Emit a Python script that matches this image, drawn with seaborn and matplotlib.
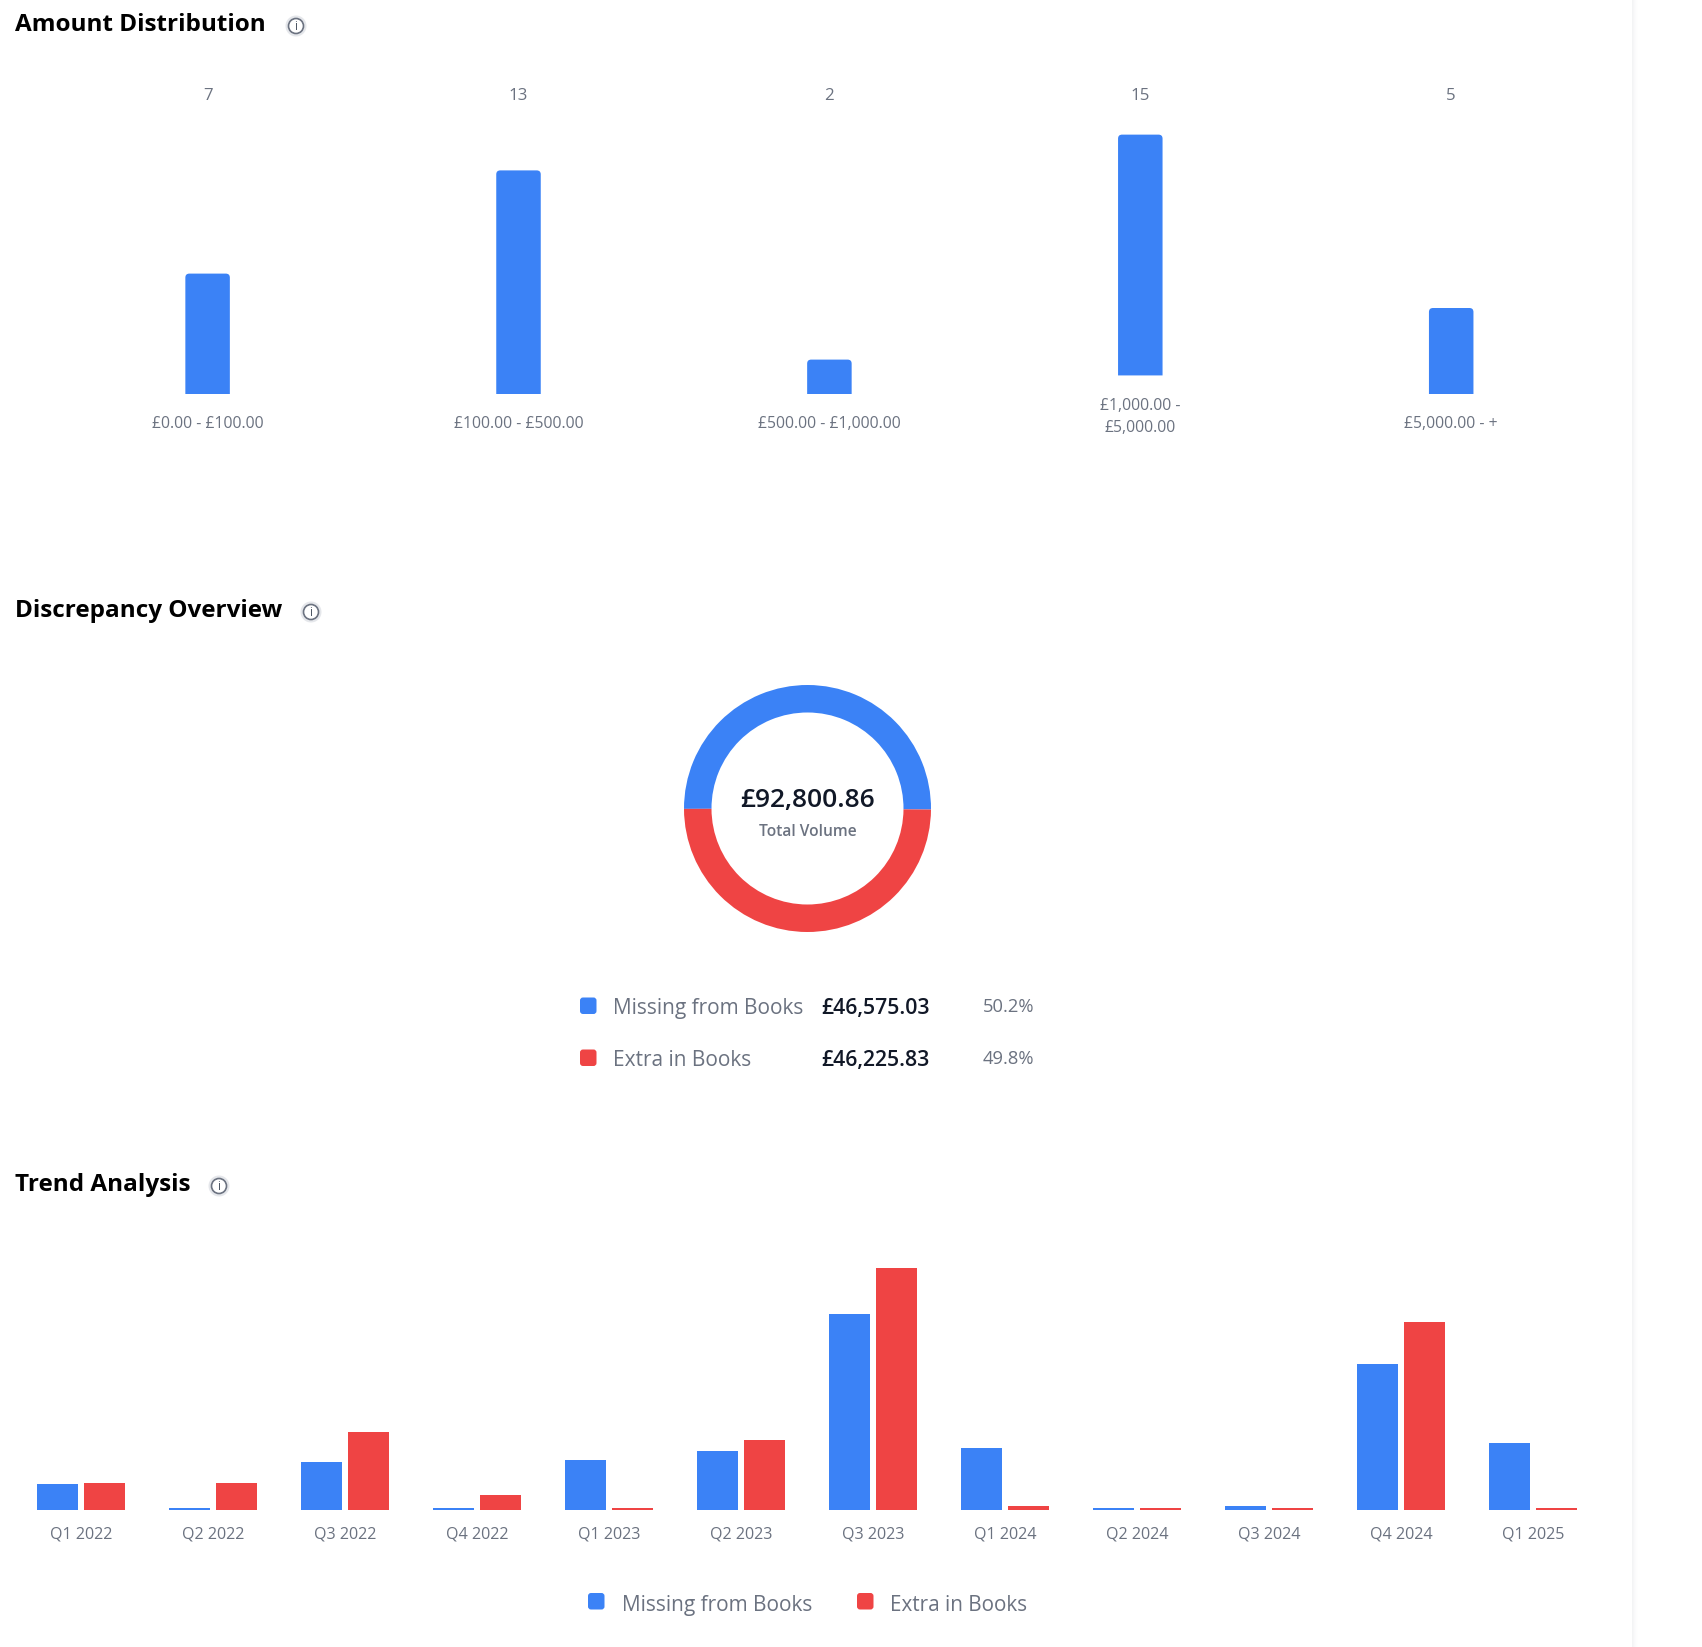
import matplotlib
matplotlib.use("Agg")
import matplotlib.pyplot as plt
import pandas as pd
import seaborn as sns
from matplotlib.patches import Circle, FancyBboxPatch, PathPatch, Rectangle
from matplotlib.path import Path

BLUE = "#3B82F6"
RED = "#EF4444"
GRAY = "#6B7280"
DARK = "#111827"

# Amount distribution
amount_bins = ["£0.00 - £100.00", "£100.00 - £500.00", "£500.00 - £1,000.00", "£1,000.00 -\n£5,000.00", "£5,000.00 - +"]
amount_counts = [7, 13, 2, 15, 5]
# drawn height of each bar, the wrapped label squeezes the fourth one
amount_heights = [7, 13, 2, 14, 5]
amount_lift = [0, 0, 0, 1.08, 0]

# Discrepancy overview
overview_labels = ["Missing from Books", "Extra in Books"]
overview_amounts = [46575.03, 46225.83]
overview_text = ["£46,575.03", "£46,225.83"]
overview_pct = ["50.2%", "49.8%"]
overview_total = "£92,800.86"

# Trend analysis
quarters = ["Q1 2022", "Q2 2022", "Q3 2022", "Q4 2022", "Q1 2023", "Q2 2023",
            "Q3 2023", "Q1 2024", "Q2 2024", "Q3 2024", "Q4 2024", "Q1 2025"]
trend_missing = [1820, 140, 3360, 140, 3500, 4130, 13755, 4340, 140, 280, 10220, 4690]
trend_extra = [1890, 1890, 5460, 1050, 140, 4900, 16940, 280, 140, 140, 13160, 140]

W, H = 1702, 1647
FONT = "Open Sans"

sns.set_theme(style="white")
plt.rcParams["font.family"] = [FONT, "DejaVu Sans"]

fig = plt.figure(figsize=(W / 100, H / 100), dpi=100, facecolor="white")


def px_axes(left, top, right, bottom, **kw):
    return fig.add_axes([left / W, 1 - bottom / H, (right - left) / W, (bottom - top) / H], **kw)


# overlay in pixel coordinates for titles, legends and page furniture
page = px_axes(0, 0, W, H, zorder=5)
page.set_xlim(0, W)
page.set_ylim(H, 0)
page.axis("off")
page.patch.set_alpha(0)

# soft shadow at the right edge of the panel
for i, shade in enumerate(["#F3F4F5", "#F6F6F7", "#F9F9FA", "#FBFBFC", "#FDFDFD", "#FEFEFE"]):
    page.add_patch(Rectangle((1632 + i, 0), 1, H, fc=shade, ec="none"))


def title(text, y, icon_x):
    page.text(15, y + 2, text, fontsize=17.45, fontweight="bold", color="black", va="center", ha="left")
    page.add_patch(Circle((icon_x, y + 3), 10.5, fc="#E5E7EB", ec="none"))
    page.add_patch(Circle((icon_x, y + 3), 7.5, fc="white", ec="#6B7280", lw=1.2))
    page.text(icon_x, y + 3.5, "i", fontsize=8.5, color="#4B5563", ha="center", va="center")


def swatch(x, y, color, size=16.5):
    page.add_patch(FancyBboxPatch((x + 2, y + 2), size - 4, size - 4, boxstyle="round,pad=2,rounding_size=3",
                                  fc=color, ec="none"))


title("Amount Distribution", 23, 296)
title("Discrepancy Overview", 609, 311)
title("Trend Analysis", 1183, 219)

# amount distribution bars
amount_df = pd.DataFrame({"bin": amount_bins, "height": amount_heights})
ax = px_axes(52.15, 100, 1606.65, 394)
sns.barplot(data=amount_df, x="bin", y="height", color=BLUE, saturation=1, width=44.5 / 310.9, ax=ax)
ax.set_ylim(0, 294 / 17.2)
ax.axis("off")
per_px = 17.2
for bar, lift in zip(list(ax.patches), amount_lift):
    x0, w, h = bar.get_x(), bar.get_width(), bar.get_height()
    y0 = lift
    y1 = lift + h
    rx = w * 4 / 44
    ry = 4 / per_px
    verts = [(x0, y0), (x0, y1 - ry), (x0, y1), (x0 + rx, y1), (x0 + w - rx, y1), (x0 + w, y1),
             (x0 + w, y1 - ry), (x0 + w, y0), (x0, y0)]
    codes = [Path.MOVETO, Path.LINETO, Path.CURVE3, Path.CURVE3, Path.LINETO, Path.CURVE3, Path.CURVE3,
             Path.LINETO, Path.CLOSEPOLY]
    ax.add_patch(PathPatch(Path(verts, codes), fc=BLUE, ec="none"))
    bar.remove()

for i, (label, count) in enumerate(zip(amount_bins, amount_counts)):
    cx = 207.6 + i * 310.9
    page.text(cx, 96.5, str(count), fontsize=12.2, color=GRAY, ha="center", va="center")
    page.text(cx, 417 if "\n" in label else 424.5, label, fontsize=11.35, color=GRAY, ha="center", va="center",
              linespacing=1.55)

# donut
donut = px_axes(807.5 - 130, 808.5 - 130, 807.5 + 130, 808.5 + 130)
donut.pie(overview_amounts, colors=[BLUE, RED], startangle=-0.5, radius=123.5, counterclock=True,
          wedgeprops={"width": 27.5, "linewidth": 0})
donut.set_xlim(-130, 130)
donut.set_ylim(-130, 130)

page.text(807.5, 800, overview_total, fontsize=19, fontweight="semibold", color=DARK, ha="center", va="center")
page.text(807.5, 831.5, "Total Volume", fontsize=11.2, fontweight="semibold", color=GRAY, ha="center", va="center")

for label, amount, pct, color, y in zip(overview_labels, overview_text, overview_pct, [BLUE, RED], [1008.5, 1060.5]):
    swatch(580, y - 11, color)
    page.text(613, y, label, fontsize=15, color=GRAY, va="center", ha="left")
    page.text(821, y, amount, fontsize=15.3, fontweight="semibold", color=DARK, va="center", ha="left")
    page.text(1034, y - 1, pct, fontsize=13.2, color=GRAY, va="center", ha="right")

# trend bars
trend_df = pd.DataFrame({
    "quarter": quarters * 2,
    "kind": [overview_labels[0]] * len(quarters) + [overview_labels[1]] * len(quarters),
    "amount": trend_missing + trend_extra,
})
ax2 = px_axes(15, 1250, 1599, 1510)
# set_theme gives patches a white edge, which eats the 2px bars
sns.barplot(data=trend_df, x="quarter", y="amount", hue="kind", palette=[BLUE, RED], saturation=1,
            width=94 / 132, gap=6 / 47, linewidth=0, legend=False, ax=ax2)
ax2.set_ylim(0, 260 * 70)
ax2.axis("off")

for i, q in enumerate(quarters):
    page.text(81 + i * 132, 1534.5, q, fontsize=11.6, color=GRAY, ha="center", va="center")

swatch(588, 1593, BLUE)
page.text(622, 1606, overview_labels[0], fontsize=15, color=GRAY, va="center", ha="left")
swatch(857, 1593, RED)
page.text(890, 1605.5, overview_labels[1], fontsize=14.85, color=GRAY, va="center", ha="left")

fig.savefig("out.png", dpi=100, facecolor="white")
